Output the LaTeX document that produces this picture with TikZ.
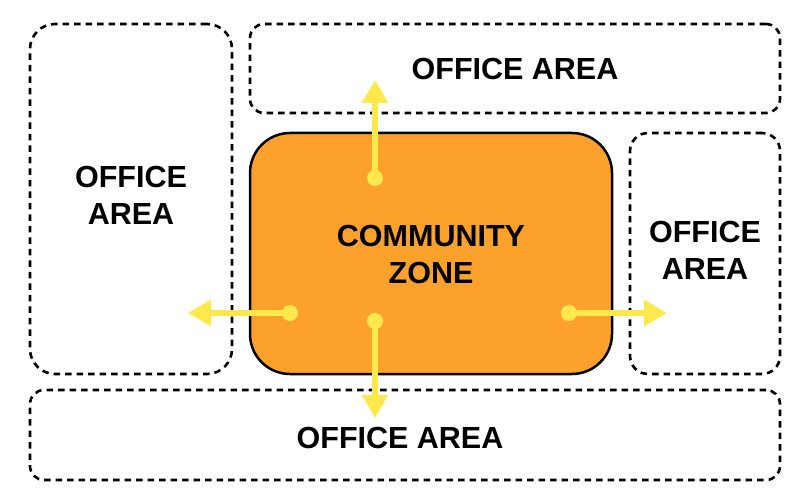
\documentclass[tikz,border=0pt]{standalone}
\usepackage{fontspec}
\setmainfont{Liberation Sans}
\usetikzlibrary{arrows.meta}
\definecolor{zoneorange}{HTML}{FBA12C}
\definecolor{arrowyellow}{HTML}{FFE84B}
\begin{document}
\begin{tikzpicture}[x=1pt,y=-1pt,
  labelfont/.style={font=\fontsize{30.5}{37}\selectfont\bfseries, align=center, inner sep=0pt},
  office/.style={draw=black, line width=2.6pt, dash pattern=on 6.5pt off 5pt,
    rounded corners=#1, inner sep=0pt},
  office/.default=18pt,
  zone/.style={draw=black, line width=2.5pt, fill=zoneorange, rounded corners=40pt,
    inner sep=0pt},
  ydot/.style={circle, fill=arrowyellow, minimum size=16pt, inner sep=0pt},
  yarrow/.style={draw=arrowyellow, line width=5.5pt,
    -{Triangle[width=25pt,length=23pt]}}
]
\useasboundingbox (0,0) rectangle (800,500);
\fill[white] (0,0) rectangle (800,500);

\node[office=25pt, minimum width=202pt, minimum height=350pt] (left) at (131,199) {};
\node[labelfont] (leftlabel) at (131,195) {OFFICE\\AREA};
\node[office=14pt, minimum width=530pt, minimum height=89pt] (top) at (515,68.5) {};
\node[labelfont] (toplabel) at (515,69) {OFFICE AREA};
\node[office=18pt, minimum width=150pt, minimum height=241pt] (right) at (705,253.5) {};
\node[labelfont] (rightlabel) at (705,250) {OFFICE\\AREA};
\node[office=14pt, minimum width=750pt, minimum height=90pt] (bottom) at (405,435) {};
\node[labelfont] (bottomlabel) at (400,438) {OFFICE AREA};

\node[zone, minimum width=362pt, minimum height=241pt] (zone) at (431,253.5) {};
\node[labelfont] (zonelabel) at (431,254) {COMMUNITY\\ZONE};

\node[ydot] (dup) at (375,178) {};
\node[ydot] (dleft) at (290,313) {};
\node[ydot] (ddown) at (375,321) {};
\node[ydot] (dright) at (569,313) {};

\coordinate (tup) at (375,80);
\coordinate (tleft) at (188,313);
\coordinate (tdown) at (375,418);
\coordinate (tright) at (667,313);

\draw[yarrow] (dup.center) -- (tup);
\draw[yarrow] (dleft.center) -- (tleft);
\draw[yarrow] (ddown.center) -- (tdown);
\draw[yarrow] (dright.center) -- (tright);
\end{tikzpicture}
\end{document}
